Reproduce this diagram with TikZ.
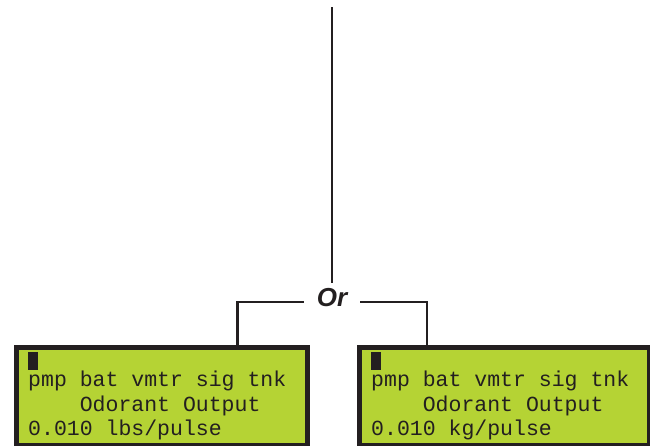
\documentclass[tikz,border=0pt]{standalone}
\usepackage{fontspec}
\setmainfont{Liberation Sans}
\setmonofont{Liberation Mono}
\definecolor{lcd}{RGB}{181,211,52}
\definecolor{ink}{RGB}{35,31,32}
\begin{document}
\begin{tikzpicture}[x=1pt,y=-1pt,
  lcdbox/.style={draw=ink, line width=5pt, fill=lcd, rectangle, inner sep=0pt, anchor=north west, minimum height=98pt},
  lcdtext/.style={font=\fontsize{21.5}{24}\selectfont\ttfamily, text=ink, anchor=base west, inner sep=0pt},
  cursorblock/.style={fill=ink, draw=none, rectangle, inner sep=0pt, anchor=north west, minimum width=10pt, minimum height=18pt},
  wire/.style={draw=ink, line width=2.4pt},
  ortext/.style={font=\fontsize{26}{28}\selectfont\bfseries\itshape, text=ink, inner xsep=13pt, inner ysep=6pt}]
\useasboundingbox (0,0) rectangle (650,445);
% boxes
\node[lcdbox, minimum width=291pt] (lbox) at (13.5,344.5) {};
\node[lcdbox, minimum width=290pt] (rbox) at (356.5,344.5) {};
% Or label
\node[ortext] (or) at (332,298) {Or};
\coordinate (top) at (332,7);
\coordinate (lturn) at (237.5,302);
\coordinate (rturn) at (427,302);
\draw[wire] (top) -- (or.north);
\draw[wire] (or.west |- lturn) -- (lturn) -- (lturn |- lbox.north);
\draw[wire] (or.east |- rturn) -- (rturn) -- (rturn |- rbox.north);
% left display
\node[cursorblock] (lcur) at (28,352) {};
\node[lcdtext] (l1) at (28,386.5) {pmp bat vmtr sig tnk};
\node[lcdtext] (l2) at (79.6,411) {Odorant Output};
\node[lcdtext] (l3) at (28,435) {0.010 lbs/pulse};
% right display
\node[cursorblock] (rcur) at (371,352) {};
\node[lcdtext] (r1) at (371,386.5) {pmp bat vmtr sig tnk};
\node[lcdtext] (r2) at (422.6,411) {Odorant Output};
\node[lcdtext] (r3) at (371,435) {0.010 kg/pulse};
\end{tikzpicture}
\end{document}
